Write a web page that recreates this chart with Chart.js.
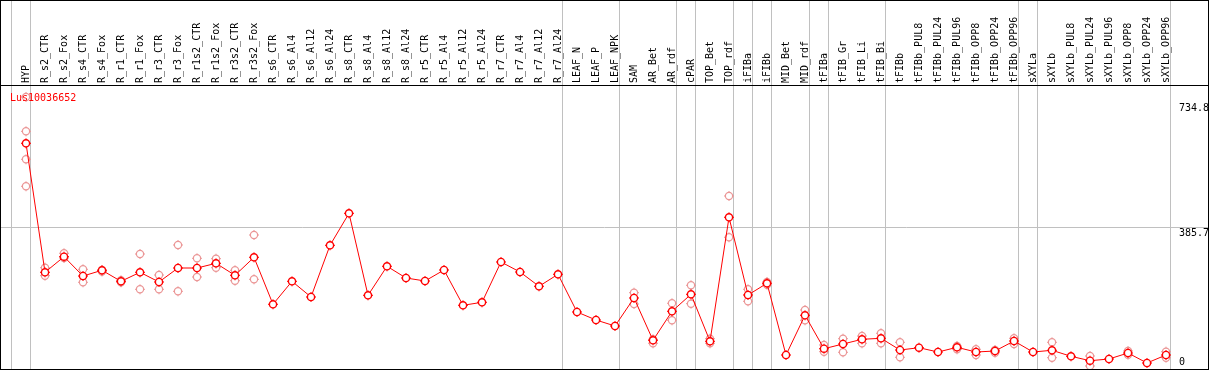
<!DOCTYPE html>
<html><head><meta charset="utf-8">
<script src="https://cdn.jsdelivr.net/npm/chart.js@4/dist/chart.umd.min.js"></script>
<style>
html,body{margin:0;padding:0;background:#fff;}
#wrap{position:relative;width:1209px;height:370px;box-sizing:border-box;border:1px solid #000;background:#fff;overflow:hidden;}
#c{display:block;}
#gene{position:absolute;left:9px;top:91px;font:10px "DejaVu Sans Mono",monospace;color:#f00;line-height:12px;white-space:nowrap;}
</style></head><body>
<div id="wrap"><canvas id="c" width="1207" height="368"></canvas><div id="gene"></div></div>
<script>
const geneName = 'Lus10036652';
const categories = ['HYP','R_s2_CTR','R_s2_Fox','R_s4_CTR','R_s4_Fox','R_r1_CTR','R_r1_Fox','R_r3_CTR','R_r3_Fox','R_r1s2_CTR','R_r1s2_Fox','R_r3s2_CTR','R_r3s2_Fox','R_s6_CTR','R_s6_Al4','R_s6_Al12','R_s6_Al24','R_s8_CTR','R_s8_Al4','R_s8_Al12','R_s8_Al24','R_r5_CTR','R_r5_Al4','R_r5_Al12','R_r5_Al24','R_r7_CTR','R_r7_Al4','R_r7_Al12','R_r7_Al24','LEAF_N','LEAF_P','LEAF_NPK','SAM','AR_Bet','AR_rdf','cPAR','TOP_Bet','TOP_rdf','iFIBa','iFIBb','MID_Bet','MID_rdf','tFIBa','tFIB_Gr','tFIB_Li','tFIB_Bi','tFIBb','tFIBb_PUL8','tFIBb_PUL24','tFIBb_PUL96','tFIBb_OPP8','tFIBb_OPP24','tFIBb_OPP96','sXYLa','sXYLb','sXYLb_PUL8','sXYLb_PUL24','sXYLb_PUL96','sXYLb_OPP8','sXYLb_OPP24','sXYLb_OPP96'];
const meanValues = [622.2,261.8,305.4,251.4,267.4,236.6,261.8,234.7,273.8,273.8,286.9,253.4,303.7,172.4,236.6,192.8,337.2,426.6,197.5,278.6,245.9,237.5,268.2,169.6,178.0,290.6,262.6,222.7,256.2,150.9,128.5,111.8,190.0,71.8,152.8,200.3,69.0,415.5,198.4,231.1,30.7,141.7,48.3,61.5,74.6,77.4,44.7,51.1,39.1,52.2,39.1,41.9,69.8,39.1,43.9,27.1,14.8,19.6,36.3,8.4,30.7];
const rep1 = [751.6,274.6,314.9,270.2,268.2,239.4,312.9,254.2,338.1,300.9,299.8,267.4,366.0,null,null,null,null,null,null,null,null,null,null,null,null,null,null,null,null,null,null,null,204.8,74.6,175.2,225.5,76.3,475.0,214.3,234.7,null,156.5,58.7,76.3,83.8,91.4,66.2,null,null,55.9,46.7,44.7,77.4,null,66.2,null,27.9,null,41.9,null,40.0];
const rep2 = [655.7,252.3,301.7,233.9,264.0,233.9,214.3,214.3,208.7,248.7,274.6,238.3,242.2,null,null,null,null,null,null,null,null,null,null,null,null,null,null,null,null,null,null,null,173.2,63.4,127.7,174.1,63.4,359.6,180.8,227.1,null,127.7,40.0,38.3,63.4,63.4,24.3,null,null,46.7,30.7,37.2,61.5,null,23.2,null,0,null,31.6,null,23.2];
const rep3 = [577.5];
const rep4 = [502.1];
const groupEnds = [-1,0,28,31,34,35,37,38,39,41,42,45,52,53,60];
const yTickValues = [385.7, 734.8];
const yTickLabels = ['385.7', '734.8'];
const yZeroValues = [0];
const yZeroLabels = ['0'];

document.getElementById('gene').textContent = geneName;

const FONT = {family: '"DejaVu Sans Mono", monospace', size: 10};
const GRID = '#c0c0c0';
const CLEAR = 'rgba(0,0,0,0)';
const RED = '#ff0000', PINK = '#eb9696';
const PX_PER_CAT = 19, FIRST_PX = 25, AREA_W = 1207;
const X_MIN = -FIRST_PX / PX_PER_CAT, X_MAX = (AREA_W - FIRST_PX) / PX_PER_CAT;
const Y_MIN = -8.38, Y_MAX = 785.1;
const boundaryVals = new Set(groupEnds.map(b => b + 0.25));

const meanPts = meanValues.map((v, i) => ({x: i, y: v}));
const repPts = [];
[rep1, rep2, rep3, rep4].forEach(r => r.forEach((v, i) => { if (v !== null && v !== undefined) repPts.push({x: i, y: v}); }));

const ring = (data, color, bw) => ({data, showLine: false, pointStyle: 'circle', pointRadius: 3.6, pointBorderWidth: bw,
  pointBorderColor: color, pointBackgroundColor: '#ffffff', xAxisID: 'x', yAxisID: 'y'});
const stubs = (data, color) => ({data, pointStyle: 'cross', pointRadius: 5, pointBorderWidth: 1,
  pointBorderColor: color, pointBackgroundColor: CLEAR, xAxisID: 'x', yAxisID: 'y'});

new Chart(document.getElementById('c'), {
  type: 'line',
  data: {datasets: [
    Object.assign(ring(meanPts, RED, 1.4), {label: geneName}),
    Object.assign(stubs(meanPts, RED), {label: geneName + ' line', showLine: true, borderColor: RED, borderWidth: 1, tension: 0}),
    Object.assign(ring(repPts, PINK, 1.2), {label: 'replicates'}),
    Object.assign(stubs(repPts, PINK), {label: 'replicates stubs', showLine: false})
  ]},
  options: {
    responsive: false, animation: false, devicePixelRatio: 1,
    layout: {padding: 0, autoPadding: false},
    plugins: {legend: {display: false}, tooltip: {enabled: false}, title: {display: false}},
    scales: {
      x: {
        type: 'linear', position: 'top', min: X_MIN, max: X_MAX,
        afterBuildTicks(s) {
          const t = [{value: X_MIN}];
          categories.forEach((_, i) => t.push({value: i}));
          boundaryVals.forEach(v => t.push({value: v}));
          t.sort((a, b) => a.value - b.value);
          s.ticks = t;
        },
        afterFit(s) { s.height = 84; s.paddingLeft = 0; s.paddingRight = 0; },
        grid: {
          color: c => (c.tick && boundaryVals.has(c.tick.value)) ? GRID : CLEAR,
          lineWidth: 1, drawTicks: true, tickLength: 84
        },
        border: {display: true, color: '#000', width: 1},
        ticks: {
          autoSkip: false, minRotation: 90, maxRotation: 90, padding: -82, labelOffset: 12,
          font: FONT, color: '#000',
          callback: v => Number.isInteger(v) ? categories[v] : ''
        }
      },
      y: {
        type: 'linear', position: 'right', min: Y_MIN, max: Y_MAX,
        afterBuildTicks(s) { s.ticks = yTickValues.map(v => ({value: v})); },
        afterFit(s) { s.width = 0; s.paddingTop = 0; s.paddingBottom = 0; },
        grid: {color: c => (c.tick && c.tick.value === yTickValues[0]) ? GRID : CLEAR, drawTicks: false, lineWidth: 1},
        border: {display: false},
        ticks: {mirror: true, crossAlign: 'far', padding: 1, labelOffset: 5, font: FONT, color: '#000',
          callback: (v) => yTickLabels[yTickValues.indexOf(v)]}
      },
      y2: {
        type: 'linear', position: 'right', min: Y_MIN, max: Y_MAX,
        afterBuildTicks(s) { s.ticks = yZeroValues.map(v => ({value: v})); },
        afterFit(s) { s.width = 0; s.paddingTop = 0; s.paddingBottom = 0; },
        grid: {display: false, drawTicks: false},
        border: {display: false},
        ticks: {mirror: true, crossAlign: 'far', padding: -23, labelOffset: -4, font: FONT, color: '#000',
          callback: (v) => yZeroLabels[yZeroValues.indexOf(v)]}
      }
    }
  }
});
</script>
</body></html>
